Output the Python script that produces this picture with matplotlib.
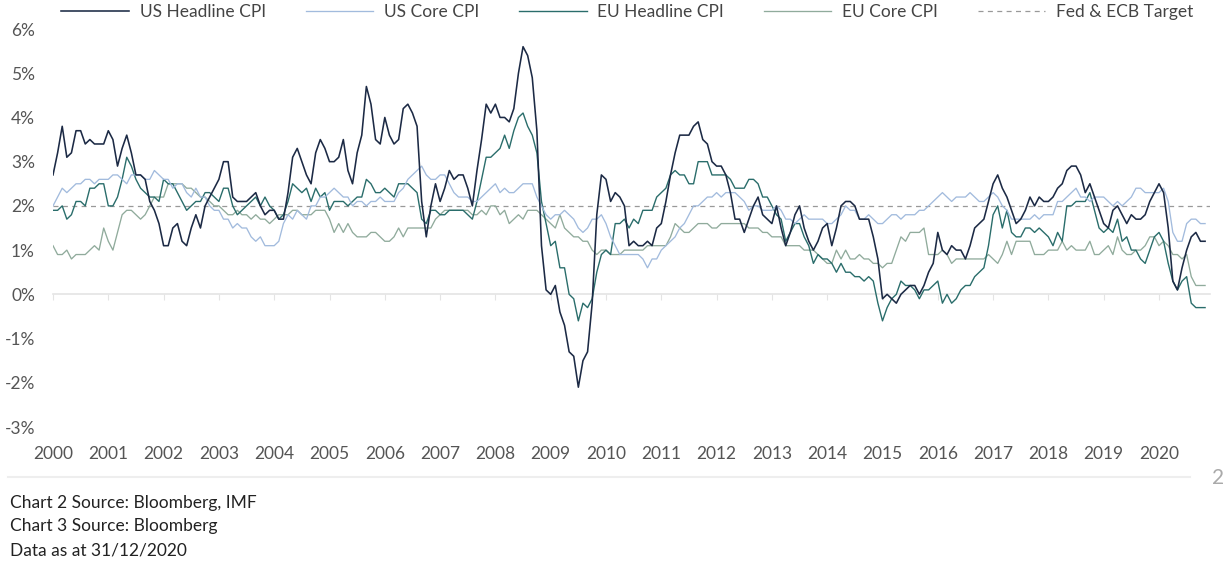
import numpy as np
import matplotlib
matplotlib.use("Agg")
import matplotlib.pyplot as plt

plt.rcParams['font.family'] = ['Lato', 'DejaVu Sans']

# monthly YoY %, Jan 2000 - Nov 2020 (one row per year)
us_headline = [
    2.7, 3.2, 3.8, 3.1, 3.2, 3.7, 3.7, 3.4, 3.5, 3.4, 3.4, 3.4,
    3.7, 3.5, 2.9, 3.3, 3.6, 3.2, 2.7, 2.7, 2.6, 2.1, 1.9, 1.6,
    1.1, 1.1, 1.5, 1.6, 1.2, 1.1, 1.5, 1.8, 1.5, 2.0, 2.2, 2.4,
    2.6, 3.0, 3.0, 2.2, 2.1, 2.1, 2.1, 2.2, 2.3, 2.0, 1.8, 1.9,
    1.9, 1.7, 1.7, 2.3, 3.1, 3.3, 3.0, 2.7, 2.5, 3.2, 3.5, 3.3,
    3.0, 3.0, 3.1, 3.5, 2.8, 2.5, 3.2, 3.6, 4.7, 4.3, 3.5, 3.4,
    4.0, 3.6, 3.4, 3.5, 4.2, 4.3, 4.1, 3.8, 2.1, 1.3, 2.0, 2.5,
    2.1, 2.4, 2.8, 2.6, 2.7, 2.7, 2.4, 2.0, 2.8, 3.5, 4.3, 4.1,
    4.3, 4.0, 4.0, 3.9, 4.2, 5.0, 5.6, 5.4, 4.9, 3.7, 1.1, 0.1,
    0.0, 0.2, -0.4, -0.7, -1.3, -1.4, -2.1, -1.5, -1.3, -0.2, 1.8, 2.7,
    2.6, 2.1, 2.3, 2.2, 2.0, 1.1, 1.2, 1.1, 1.1, 1.2, 1.1, 1.5,
    1.6, 2.1, 2.7, 3.2, 3.6, 3.6, 3.6, 3.8, 3.9, 3.5, 3.4, 3.0,
    2.9, 2.9, 2.7, 2.3, 1.7, 1.7, 1.4, 1.7, 2.0, 2.2, 1.8, 1.7,
    1.6, 2.0, 1.5, 1.1, 1.4, 1.8, 2.0, 1.5, 1.2, 1.0, 1.2, 1.5,
    1.6, 1.1, 1.5, 2.0, 2.1, 2.1, 2.0, 1.7, 1.7, 1.7, 1.3, 0.8,
    -0.1, 0.0, -0.1, -0.2, 0.0, 0.1, 0.2, 0.2, 0.0, 0.2, 0.5, 0.7,
    1.4, 1.0, 0.9, 1.1, 1.0, 1.0, 0.8, 1.1, 1.5, 1.6, 1.7, 2.1,
    2.5, 2.7, 2.4, 2.2, 1.9, 1.6, 1.7, 1.9, 2.2, 2.0, 2.2, 2.1,
    2.1, 2.2, 2.4, 2.5, 2.8, 2.9, 2.9, 2.7, 2.3, 2.5, 2.2, 1.9,
    1.6, 1.5, 1.9, 2.0, 1.8, 1.6, 1.8, 1.7, 1.7, 1.8, 2.1, 2.3,
    2.5, 2.3, 1.5, 0.3, 0.1, 0.6, 1.0, 1.3, 1.4, 1.2, 1.2,
]

us_core = [
    2.0, 2.2, 2.4, 2.3, 2.4, 2.5, 2.5, 2.6, 2.6, 2.5, 2.6, 2.6,
    2.6, 2.7, 2.7, 2.6, 2.5, 2.7, 2.7, 2.7, 2.6, 2.6, 2.8, 2.7,
    2.6, 2.6, 2.4, 2.5, 2.5, 2.3, 2.2, 2.4, 2.2, 2.2, 2.0, 1.9,
    1.9, 1.7, 1.7, 1.5, 1.6, 1.5, 1.5, 1.3, 1.2, 1.3, 1.1, 1.1,
    1.1, 1.2, 1.6, 1.8, 1.7, 1.9, 1.8, 1.7, 2.0, 2.0, 2.2, 2.2,
    2.3, 2.4, 2.3, 2.2, 2.2, 2.0, 2.1, 2.1, 2.0, 2.1, 2.1, 2.2,
    2.1, 2.1, 2.1, 2.3, 2.4, 2.6, 2.7, 2.8, 2.9, 2.7, 2.6, 2.6,
    2.7, 2.7, 2.5, 2.3, 2.2, 2.2, 2.2, 2.1, 2.1, 2.2, 2.3, 2.4,
    2.5, 2.3, 2.4, 2.3, 2.3, 2.4, 2.5, 2.5, 2.5, 2.2, 2.0, 1.8,
    1.7, 1.8, 1.8, 1.9, 1.8, 1.7, 1.5, 1.4, 1.5, 1.7, 1.7, 1.8,
    1.6, 1.3, 1.1, 0.9, 0.9, 0.9, 0.9, 0.9, 0.8, 0.6, 0.8, 0.8,
    1.0, 1.1, 1.2, 1.3, 1.5, 1.6, 1.8, 2.0, 2.0, 2.1, 2.2, 2.2,
    2.3, 2.2, 2.3, 2.3, 2.3, 2.2, 2.1, 1.9, 2.0, 2.0, 1.9, 1.9,
    1.9, 2.0, 1.9, 1.7, 1.7, 1.6, 1.7, 1.8, 1.7, 1.7, 1.7, 1.7,
    1.6, 1.6, 1.7, 1.8, 2.0, 1.9, 1.9, 1.7, 1.7, 1.8, 1.7, 1.6,
    1.6, 1.7, 1.8, 1.8, 1.7, 1.8, 1.8, 1.8, 1.9, 1.9, 2.0, 2.1,
    2.2, 2.3, 2.2, 2.1, 2.2, 2.2, 2.2, 2.3, 2.2, 2.1, 2.1, 2.2,
    2.3, 2.2, 2.0, 1.9, 1.7, 1.7, 1.7, 1.7, 1.7, 1.8, 1.7, 1.8,
    1.8, 1.8, 2.1, 2.1, 2.2, 2.3, 2.4, 2.2, 2.2, 2.1, 2.2, 2.2,
    2.2, 2.1, 2.0, 2.1, 2.0, 2.1, 2.2, 2.4, 2.4, 2.3, 2.3, 2.3,
    2.3, 2.4, 2.1, 1.4, 1.2, 1.2, 1.6, 1.7, 1.7, 1.6, 1.6,
]

eu_headline = [
    1.9, 1.9, 2.0, 1.7, 1.8, 2.1, 2.1, 2.0, 2.4, 2.4, 2.5, 2.5,
    2.0, 2.0, 2.2, 2.6, 3.1, 2.9, 2.6, 2.4, 2.3, 2.2, 2.2, 2.1,
    2.6, 2.5, 2.5, 2.3, 2.1, 1.9, 2.0, 2.1, 2.1, 2.3, 2.3, 2.2,
    2.1, 2.4, 2.4, 2.0, 1.8, 1.9, 2.0, 2.1, 2.2, 2.0, 2.2, 2.0,
    1.9, 1.7, 1.8, 2.1, 2.5, 2.4, 2.3, 2.4, 2.1, 2.4, 2.2, 2.3,
    1.9, 2.1, 2.1, 2.1, 2.0, 2.1, 2.2, 2.2, 2.6, 2.5, 2.3, 2.3,
    2.4, 2.3, 2.2, 2.5, 2.5, 2.5, 2.4, 2.3, 1.7, 1.6, 1.9, 1.9,
    1.8, 1.8, 1.9, 1.9, 1.9, 1.9, 1.8, 1.7, 2.1, 2.6, 3.1, 3.1,
    3.2, 3.3, 3.6, 3.3, 3.7, 4.0, 4.1, 3.8, 3.6, 3.2, 2.1, 1.6,
    1.1, 1.2, 0.6, 0.6, 0.0, -0.1, -0.6, -0.2, -0.3, -0.1, 0.5, 0.9,
    1.0, 0.9, 1.6, 1.6, 1.7, 1.5, 1.7, 1.6, 1.9, 1.9, 1.9, 2.2,
    2.3, 2.4, 2.7, 2.8, 2.7, 2.7, 2.5, 2.5, 3.0, 3.0, 3.0, 2.7,
    2.7, 2.7, 2.7, 2.6, 2.4, 2.4, 2.4, 2.6, 2.6, 2.5, 2.2, 2.2,
    2.0, 1.8, 1.7, 1.2, 1.4, 1.6, 1.6, 1.3, 1.1, 0.7, 0.9, 0.8,
    0.8, 0.7, 0.5, 0.7, 0.5, 0.5, 0.4, 0.4, 0.3, 0.4, 0.3, -0.2,
    -0.6, -0.3, -0.1, 0.0, 0.3, 0.2, 0.2, 0.1, -0.1, 0.1, 0.1, 0.2,
    0.3, -0.2, 0.0, -0.2, -0.1, 0.1, 0.2, 0.2, 0.4, 0.5, 0.6, 1.1,
    1.8, 2.0, 1.5, 1.9, 1.4, 1.3, 1.3, 1.5, 1.5, 1.4, 1.5, 1.4,
    1.3, 1.1, 1.4, 1.2, 2.0, 2.0, 2.1, 2.1, 2.1, 2.3, 1.9, 1.5,
    1.4, 1.5, 1.4, 1.7, 1.2, 1.3, 1.0, 1.0, 0.8, 0.7, 1.0, 1.3,
    1.4, 1.2, 0.7, 0.3, 0.1, 0.3, 0.4, -0.2, -0.3, -0.3, -0.3,
]

eu_core = [
    1.1, 0.9, 0.9, 1.0, 0.8, 0.9, 0.9, 0.9, 1.0, 1.1, 1.0, 1.5,
    1.2, 1.0, 1.4, 1.8, 1.9, 1.9, 1.8, 1.7, 1.8, 2.0, 2.2, 2.2,
    2.2, 2.5, 2.5, 2.5, 2.5, 2.4, 2.4, 2.3, 2.2, 2.2, 2.1, 2.0,
    2.0, 1.9, 1.8, 1.8, 1.9, 1.8, 1.8, 1.7, 1.8, 1.7, 1.7, 1.6,
    1.7, 1.8, 1.8, 1.8, 1.9, 1.9, 1.8, 1.8, 1.8, 1.9, 1.9, 1.9,
    1.7, 1.4, 1.6, 1.4, 1.6, 1.4, 1.3, 1.3, 1.3, 1.4, 1.4, 1.3,
    1.2, 1.2, 1.3, 1.5, 1.3, 1.5, 1.5, 1.5, 1.5, 1.5, 1.5, 1.7,
    1.8, 1.9, 1.9, 1.9, 1.9, 1.9, 1.9, 1.8, 1.8, 1.9, 1.8, 2.0,
    2.0, 1.8, 1.9, 1.6, 1.7, 1.8, 1.7, 1.9, 1.9, 1.9, 1.8, 1.7,
    1.6, 1.5, 1.8, 1.5, 1.4, 1.3, 1.3, 1.2, 1.2, 1.0, 0.9, 1.0,
    1.0, 0.9, 0.9, 0.9, 1.0, 1.0, 1.0, 1.0, 1.0, 1.1, 1.1, 1.1,
    1.1, 1.1, 1.3, 1.6, 1.5, 1.4, 1.4, 1.5, 1.6, 1.6, 1.6, 1.5,
    1.5, 1.6, 1.6, 1.6, 1.6, 1.6, 1.6, 1.5, 1.5, 1.5, 1.4, 1.4,
    1.3, 1.3, 1.3, 1.1, 1.1, 1.1, 1.1, 1.0, 1.0, 1.0, 0.9, 0.8,
    0.7, 0.7, 1.0, 0.8, 1.0, 0.8, 0.8, 0.9, 0.8, 0.8, 0.7, 0.7,
    0.6, 0.7, 0.7, 1.0, 1.3, 1.2, 1.4, 1.4, 1.4, 1.5, 0.9, 0.9,
    0.9, 1.0, 0.9, 0.7, 0.8, 0.8, 0.8, 0.8, 0.8, 0.8, 0.8, 0.9,
    0.8, 0.7, 0.9, 1.2, 0.9, 1.2, 1.2, 1.2, 1.2, 0.9, 0.9, 0.9,
    1.0, 1.0, 1.0, 1.2, 1.0, 1.1, 1.0, 1.0, 1.0, 1.2, 0.9, 0.9,
    1.0, 1.1, 0.9, 1.3, 1.0, 0.9, 0.9, 1.0, 1.0, 1.1, 1.3, 1.3,
    1.1, 1.2, 1.1, 0.9, 0.9, 0.8, 0.9, 0.4, 0.2, 0.2, 0.2,
]

target = 2.0
years = list(range(2000, 2021))
y_ticks = list(range(-3, 7))

series = [
    ("US Headline CPI", us_headline, "#1c2a45", 1.15),
    ("US Core CPI", us_core, "#a2bbdd", 0.95),
    ("EU Headline CPI", eu_headline, "#2a6d6b", 1.0),
    ("EU Core CPI", eu_core, "#90ab9c", 0.95),
]

fig = plt.figure(figsize=(12.25, 5.63), dpi=100)
ax = fig.add_axes([53 / 1225, 136 / 563, 1157 / 1225, 398 / 563])

months = 2000 + np.arange(len(us_headline)) / 12

ax.axhline(target, color="#999999", lw=0.9, ls=(0, (4, 3.5)), zorder=1,
           label="Fed & ECB Target")
for i, (name, vals, col, lw) in enumerate(series):
    ax.plot(months, vals, color=col, lw=lw, label=name, zorder=5 - i)

ax.set_xlim(2000, 2000 + 1157 / 55.3)
ax.set_ylim(-3, 6)

for s in ax.spines.values():
    s.set_visible(False)

ax.set_yticks(y_ticks)
ax.set_yticklabels([f"{v}%" for v in y_ticks])
ax.tick_params(axis="y", length=0, pad=13, labelsize=12.5, labelcolor="#555555")

ax.set_xticks(years)
ax.set_xticklabels([str(y) for y in years])
ax.tick_params(axis="x", length=0, pad=14, labelsize=12.5, labelcolor="#555555")

# zero line with small year ticks
zero = ax.secondary_xaxis(3 / 9)
zero.set_xticks(years)
zero.set_xticklabels([])
zero.tick_params(axis="x", direction="out", length=4, width=0.8, color="#e4e4e4")
zero.spines["bottom"].set_color("#e4e4e4")
zero.spines["bottom"].set_linewidth(1.2)

h, l = ax.get_legend_handles_labels()
order = [1, 2, 3, 4, 0]
fig.legend([h[i] for i in order], [l[i] for i in order], loc="center",
           bbox_to_anchor=(0.512, 0.979), ncol=5, frameon=False,
           fontsize=12.5, labelcolor="#444444", handlelength=3.9,
           handletextpad=0.6, columnspacing=2.3)

# footer
fig.add_artist(plt.Line2D([8 / 1225, 1190 / 1225], [1 - 477 / 563] * 2,
                          color="#eeeeee", lw=1.5))
fig.text(1218 / 1225, 1 - 478 / 563, "2", color="#aaaaaa", fontsize=15,
         ha="center", va="center")
notes = ["Chart 2 Source: Bloomberg, IMF", "Chart 3 Source: Bloomberg",
         "Data as at 31/12/2020"]
for k, t in enumerate(notes):
    fig.text(10 / 1225, 1 - (503 + 23.5 * k) / 563, t, color="#222222",
             fontsize=12.5, ha="left", va="center")

fig.savefig("out.png", dpi=100)
